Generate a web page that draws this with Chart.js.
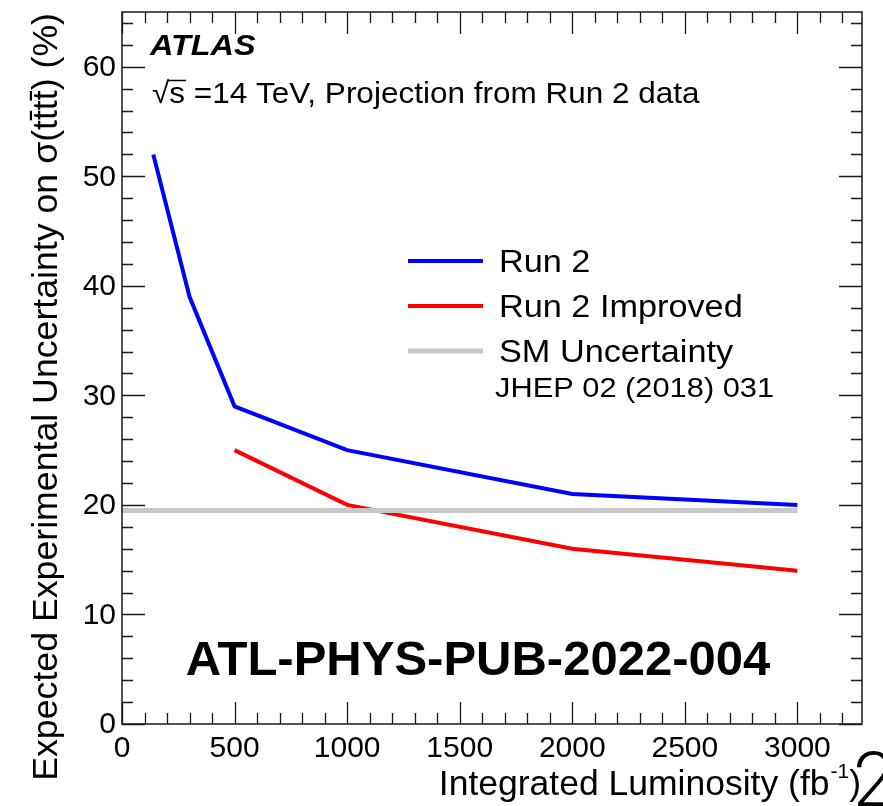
<!DOCTYPE html>
<html>
<head>
<meta charset="utf-8">
<script src="https://cdn.jsdelivr.net/npm/chart.js@4/dist/chart.umd.min.js"></script>
<style>
  html, body { margin: 0; padding: 0; background: #ffffff; }
  #wrap { width: 883px; height: 806px; }
</style>
</head>
<body>
<div id="wrap"><canvas id="c" width="883" height="806"></canvas></div>
<script>
// Integrated luminosity points (fb^-1) and expected uncertainty (%)
const lumiRun2 = [139, 300, 500, 1000, 2000, 3000];
const uncRun2 = [52, 39, 29, 25, 21, 20];
const lumiImproved = [500, 1000, 2000, 3000];
const uncImproved = [25, 20, 16, 14];
const lumiSM = [0, 3000];
const uncSM = [19.5, 19.5];

// Axis ranges and labelled ticks
const xRange = [0, 3287];
const yRange = [0, 65];
const xTickLabels = [0, 500, 1000, 1500, 2000, 2500, 3000];
const yTickLabels = [0, 10, 20, 30, 40, 50, 60];
const xMinorStep = 100;
const yMinorStep = 2;

const legendItems = [
  { label: 'Run 2', color: '#0000ff', width: 4 },
  { label: 'Run 2 Improved', color: '#ff0000', width: 4 },
  { label: 'SM Uncertainty', color: '#c8c8c8', width: 5 }
];

const FONT = '"Liberation Sans", Arial, Helvetica, sans-serif';

function pts(xs, ys) { return xs.map((x, i) => ({ x: x, y: ys[i] })); }

function fontOf(size, opts) {
  return (opts.style || '') + ' ' + (opts.weight || 'normal') + ' ' + size + 'px ' + (opts.family || FONT);
}

function measure(ctx, str, size, opts) {
  ctx.save();
  ctx.font = fontOf(size, opts || {});
  const w = ctx.measureText(str).width * ((opts && opts.sx) || 1);
  ctx.restore();
  return w;
}

function text(ctx, str, x, y, size, opts) {
  opts = opts || {};
  ctx.save();
  ctx.font = fontOf(size, opts);
  ctx.fillStyle = opts.color || '#000';
  ctx.textBaseline = opts.baseline || 'alphabetic';
  ctx.textAlign = opts.align || 'left';
  ctx.translate(x, y);
  if (opts.rotate) ctx.rotate(opts.rotate);
  ctx.scale(opts.sx || 1, 1);
  ctx.fillText(str, 0, 0);
  const w = ctx.measureText(str).width * (opts.sx || 1);
  ctx.restore();
  return w;
}

const rootFrame = {
  id: 'rootFrame',
  afterDraw(chart) {
    const ctx = chart.ctx;
    const a = chart.chartArea;
    const xs = chart.scales.x, ys = chart.scales.y;

    ctx.save();
    ctx.strokeStyle = '#1a1a1a';
    ctx.lineWidth = 1.5;
    ctx.strokeRect(a.left, a.top, a.right - a.left, a.bottom - a.top);

    // inward ticks on all four sides
    ctx.lineWidth = 1.3;
    ctx.beginPath();
    for (let v = xRange[0]; v <= xRange[1]; v += xMinorStep) {
      const px = Math.round(xs.getPixelForValue(v)) + 0.5;
      const major = v % 500 === 0;
      const len = major ? 22 : 11;
      ctx.moveTo(px, a.bottom); ctx.lineTo(px, a.bottom - len);
      ctx.moveTo(px, a.top); ctx.lineTo(px, a.top + len);
    }
    for (let v = yRange[0]; v <= yRange[1]; v += yMinorStep) {
      const py = Math.round(ys.getPixelForValue(v)) + 0.5;
      const major = v % 10 === 0;
      const len = major ? 23 : 11;
      ctx.moveTo(a.left, py); ctx.lineTo(a.left + len, py);
      ctx.moveTo(a.right, py); ctx.lineTo(a.right - len, py);
    }
    ctx.stroke();
    ctx.restore();

    // tick labels
    xTickLabels.forEach(v => {
      text(ctx, String(v), xs.getPixelForValue(v), 757, 30, { align: 'center' });
    });
    yTickLabels.forEach(v => {
      text(ctx, String(v), 116, ys.getPixelForValue(v) + 1, 30, { align: 'right', baseline: 'middle' });
    });

    // x title, right-aligned to the frame: "Integrated Luminosity (fb^-1)"
    const tSize = 35.5, sSize = 21;
    const main = 'Integrated Luminosity (fb';
    const wMain = measure(ctx, main, tSize);
    const wSup = measure(ctx, '-1', sSize);
    const wPar = measure(ctx, ')', tSize);
    let tx = 861 - (wMain + wSup + wPar + 1);
    text(ctx, main, tx, 795, tSize);
    tx += wMain + 1;
    text(ctx, '-1', tx, 778, sSize);
    tx += wSup;
    text(ctx, ')', tx, 795, tSize);

    // y title
    text(ctx, 'Expected Experimental Uncertainty on \u03c3(tt\u0304tt\u0304) (%)', 57, 13, 35.7,
      { align: 'right', rotate: -Math.PI / 2 });

    // experiment label and energy
    text(ctx, 'ATLAS', 150, 55, 30, { weight: 'bold', style: 'italic', sx: 1.08 });
    const eo = { sx: 1.05 };
    const wr = text(ctx, '\u221a', 152, 103, 30, eo);
    const ws = text(ctx, 's', 152 + wr, 103, 30, eo);
    ctx.save();
    ctx.strokeStyle = '#000'; ctx.lineWidth = 1.5;
    ctx.beginPath(); ctx.moveTo(152 + wr - 2, 80.5); ctx.lineTo(152 + wr + ws + 1, 80.5); ctx.stroke();
    ctx.restore();
    text(ctx, ' =14 TeV, Projection from Run 2 data', 152 + wr + ws, 103, 30, eo);

    // legend
    const legY = [261, 306, 351];
    legendItems.forEach((it, i) => {
      ctx.save();
      ctx.strokeStyle = it.color; ctx.lineWidth = it.width;
      ctx.beginPath(); ctx.moveTo(408, legY[i]); ctx.lineTo(483, legY[i]); ctx.stroke();
      ctx.restore();
      text(ctx, it.label, 499, legY[i] + 11, 31, { sx: 1.105 });
    });
    text(ctx, 'JHEP 02 (2018) 031', 495, 397, 28, { sx: 1.1 });

    // document reference and page number
    text(ctx, 'ATL-PHYS-PUB-2022-004', 478, 675, 49, { weight: 'bold', align: 'center' });
    text(ctx, '2', 853, 806, 76, { family: 'Roboto, "DejaVu Sans", sans-serif', weight: '300' });
  }
};

new Chart(document.getElementById('c'), {
  type: 'line',
  data: {
    datasets: [
      { label: 'SM Uncertainty', data: pts(lumiSM, uncSM), borderColor: '#c8c8c8', borderWidth: 5 },
      { label: 'Run 2 Improved', data: pts(lumiImproved, uncImproved), borderColor: '#ff0000', borderWidth: 4 },
      { label: 'Run 2', data: pts(lumiRun2, uncRun2), borderColor: '#0000ff', borderWidth: 4 }
    ]
  },
  options: {
    responsive: false,
    animation: false,
    events: [],
    layout: { padding: { left: 122, right: 21, top: 12, bottom: 82 } },
    elements: { point: { radius: 0 }, line: { tension: 0, fill: false } },
    plugins: { legend: { display: false }, tooltip: { enabled: false } },
    scales: {
      x: { type: 'linear', min: xRange[0], max: xRange[1], display: false },
      y: { type: 'linear', min: yRange[0], max: yRange[1], display: false }
    }
  },
  plugins: [rootFrame]
});
</script>
</body>
</html>
